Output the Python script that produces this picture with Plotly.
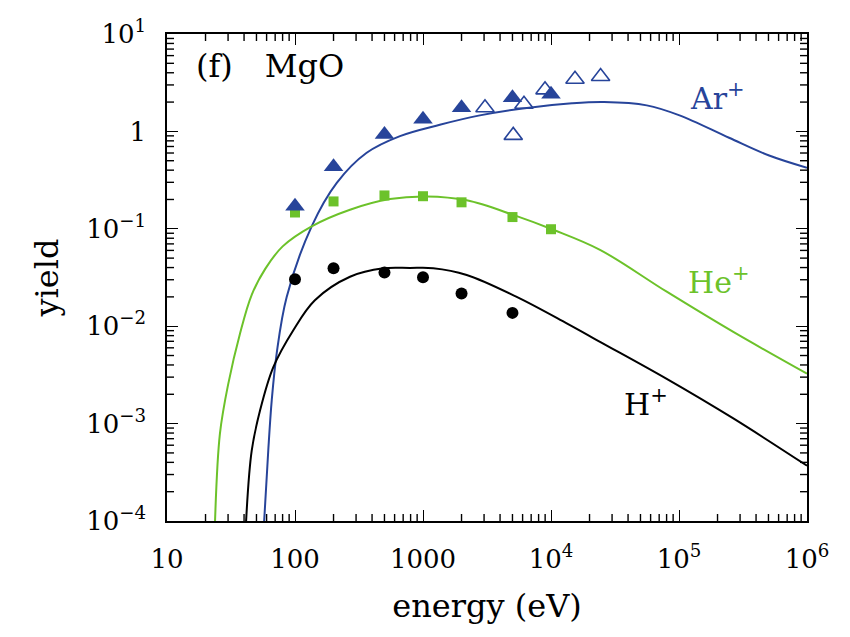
import plotly.graph_objects as go

# --- measured sputtering yields on MgO ---
e_meas = [100, 200, 500, 1000, 2000, 5000, 10000]
ar_filled = [0.170, 0.433, 0.93, 1.33, 1.75, 2.22, 2.40]
he_meas = [0.147, 0.191, 0.220, 0.216, 0.187, 0.132, 0.099]
e_h = [100, 200, 500, 1000, 2000, 5000]
h_meas = [0.0303, 0.0394, 0.0355, 0.0318, 0.0217, 0.0137]

# open triangles: second Ar+ data set
e_ar_open = [3050, 6150, 5070, 8980, 15400, 24400]
ar_open = [1.75, 1.90, 0.91, 2.67, 3.43, 3.66]

# --- calculated yield curves ---
e_ar_calc = [57.3, 61.8, 65.8, 71.9, 86.1, 135, 212, 363, 661, 1353, 2780, 6010,
             14600, 26000, 56000, 101000, 246000, 506000, 1.0e6]
y_ar_calc = [9.5e-5, 5.27e-4, 1.73e-3, 5.24e-3, 0.0200, 0.106, 0.296, 0.603, 0.895,
             1.17, 1.46, 1.72, 1.94, 2.00, 1.85, 1.46, 0.86, 0.565, 0.423]

e_he_calc = [23.7, 25.9, 30.1, 37.2, 45.9, 58.7, 80.1, 135, 269, 552, 1069, 2195, 5070,
             10420, 24150, 80200, 265700, 1.0e6]
y_he_calc = [9.5e-5, 7.83e-4, 2.56e-3, 8.41e-3, 0.0210, 0.0390, 0.066, 0.106, 0.157,
             0.202, 0.215, 0.196, 0.139, 0.0977, 0.0608, 0.0226, 8.73e-3, 3.25e-3]

e_h_calc = [41.4, 45.9, 53.3, 67.7, 97, 143, 269, 490, 791, 1203, 2195, 5395,
            13270, 24150, 80200, 265700, 1.0e6]
y_h_calc = [9.5e-5, 5.27e-4, 1.36e-3, 3.8e-3, 9.1e-3, 0.0185, 0.0322, 0.0393, 0.0396,
            0.0394, 0.0336, 0.0200, 0.0107, 6.92e-3, 2.88e-3, 1.13e-3, 3.69e-4]

x_tickvals = [10, 100, 1000, 1e4, 1e5, 1e6]
x_ticktext = ["10", "100", "1000", "10<sup>4</sup>", "10<sup>5</sup>", "10<sup>6</sup>"]
y_tickvals = [10, 1, 0.1, 0.01, 1e-3, 1e-4]
y_ticktext = ["10<sup>1</sup>", "1", "10<sup>\u22121</sup>", "10<sup>\u22122</sup>",
              "10<sup>\u22123</sup>", "10<sup>\u22124</sup>"]

BLUE = "#27449a"
GREEN = "#6cc22a"
BLACK = "#000000"
FONT = "DejaVu Serif"

fig = go.Figure()

for ex, ey, col in [(e_ar_calc, y_ar_calc, BLUE), (e_he_calc, y_he_calc, GREEN),
                    (e_h_calc, y_h_calc, BLACK)]:
    fig.add_trace(go.Scatter(x=ex, y=ey, mode="lines",
                             line=dict(color=col, width=2, shape="spline", smoothing=1.0),
                             showlegend=False, hoverinfo="skip"))

fig.add_trace(go.Scatter(x=e_meas, y=he_meas, mode="markers",
                         marker=dict(symbol="square", size=10, color=GREEN), showlegend=False))
fig.add_trace(go.Scatter(x=e_h, y=h_meas, mode="markers",
                         marker=dict(symbol="circle", size=12, color=BLACK), showlegend=False))
fig.add_trace(go.Scatter(x=e_meas, y=ar_filled, mode="markers",
                         marker=dict(symbol="triangle-up", size=17, color=BLUE), showlegend=False))
fig.add_trace(go.Scatter(x=e_ar_open, y=ar_open, mode="markers",
                         marker=dict(symbol="triangle-up-open", size=16, color=BLUE,
                                     line=dict(width=1.6, color=BLUE)), showlegend=False))

tickfont = dict(family=FONT, size=26, color="black")
titlefont = dict(family=FONT, size=32, color="black")

fig.update_layout(
    xaxis=dict(type="log", range=[1, 6], tickmode="array", tickvals=x_tickvals, ticktext=x_ticktext,
               showgrid=False, zeroline=False, showline=True, linecolor="black", linewidth=1.5,
               mirror="allticks", ticks="inside", ticklen=11, tickwidth=1.3, tickcolor="black",
               tickfont=tickfont, ticklabelstandoff=14,
               title=dict(text="energy (eV)", font=titlefont, standoff=22)),
    yaxis=dict(type="log", range=[-4, 1], tickmode="array", tickvals=y_tickvals, ticktext=y_ticktext,
               showgrid=False, zeroline=False, showline=True, linecolor="black", linewidth=1.5,
               mirror="allticks", ticks="inside", ticklen=11, tickwidth=1.3, tickcolor="black",
               tickfont=tickfont, ticklabelstandoff=14,
               title=dict(text="yield", font=titlefont, standoff=18)),
)

# sub-decade (2..9) tick marks on all four sides of the frame, sized in pixels
minor_x = [m * 10 ** d for d in range(1, 6) for m in range(2, 10)]
minor_y = [m * 10.0 ** d for d in range(-4, 1) for m in range(2, 10)]
TL = 7
tick_line = dict(color="black", width=1.4)
for v in minor_x:
    for edge, sign in [(0, 1), (1, -1)]:
        fig.add_shape(type="line", xref="x", yref="y domain", ysizemode="pixel", yanchor=edge,
                      x0=v, x1=v, y0=0, y1=sign * TL, line=tick_line, layer="above")
for v in minor_y:
    for edge, sign in [(0, 1), (1, -1)]:
        fig.add_shape(type="line", xref="x domain", yref="y", xsizemode="pixel", xanchor=edge,
                      x0=0, x1=sign * TL, y0=v, y1=v, line=tick_line, layer="above")

fig.add_annotation(xref="x", yref="y", x=5.30, y=0.361, text="Ar<sup>+</sup>", showarrow=False,
                   font=dict(family=FONT, size=30, color=BLUE))
fig.add_annotation(xref="x", yref="y", x=5.31, y=-1.526, text="He<sup>+</sup>", showarrow=False,
                   font=dict(family=FONT, size=30, color=GREEN))
fig.add_annotation(xref="x", yref="y", x=4.74, y=-2.784, text="H<sup>+</sup>", showarrow=False,
                   font=dict(family=FONT, size=30, color=BLACK))
fig.add_annotation(xref="paper", yref="paper", x=0.042, y=0.934, xanchor="left", yanchor="middle",
                   text="(f)\u2003MgO", showarrow=False, font=dict(family=FONT, size=32, color="black"))

fig.update_layout(width=850, height=637, paper_bgcolor="white", plot_bgcolor="white",
                  margin=dict(l=167, r=43, t=34, b=116), showlegend=False)

fig.write_html("out.html")
